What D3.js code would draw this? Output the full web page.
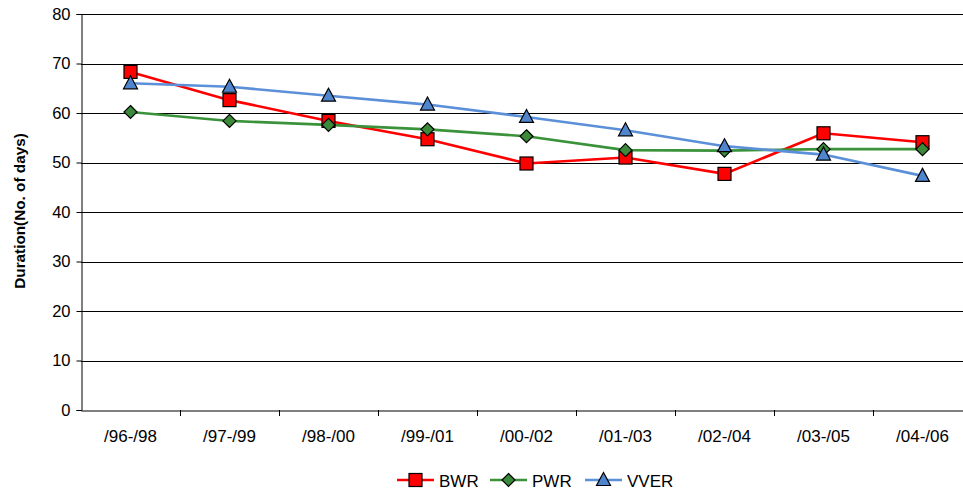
<!DOCTYPE html>
<html><head><meta charset="utf-8">
<script src="https://cdn.jsdelivr.net/npm/d3@7"></script>
<style>body{margin:0;background:#fff}svg{display:block}text{font-family:"Liberation Sans",Arial,sans-serif}</style>
</head><body>
<script>
const categories = ["/96-/98","/97-/99","/98-/00","/99-/01","/00-/02","/01-/03","/02-/04","/03-/05","/04-/06"];
const bwr  = [68.3, 62.6, 58.4, 54.7, 49.8, 51.0, 47.7, 55.9, 54.1];
const pwr  = [60.2, 58.4, 57.6, 56.7, 55.3, 52.5, 52.4, 52.7, 52.7];
const vver = [66.0, 65.3, 63.5, 61.7, 59.2, 56.5, 53.3, 51.6, 47.3];
const yTicks = [0,10,20,30,40,50,60,70,80];
const seriesNames = ["BWR","PWR","VVER"];

const W = 963, H = 491;
const m = {left: 81, top: 14, right: 972, bottom: 410};
const svg = d3.select("body").append("svg").attr("width", W).attr("height", H);

const x = d3.scaleBand().domain(categories).range([m.left, m.right]);
const y = d3.scaleLinear().domain([0,80]).range([m.bottom, m.top]);

// gridlines
svg.append("g").selectAll("line").data(yTicks.filter(d=>d>0)).join("line")
  .attr("x1", m.left).attr("x2", m.right)
  .attr("y1", d=>Math.round(y(d))+0.5).attr("y2", d=>Math.round(y(d))+0.5)
  .attr("stroke", "#000").attr("stroke-width", 1);

// y axis
const ya = svg.append("g").attr("transform", `translate(${m.left+0.5},0)`)
  .call(d3.axisLeft(y).tickValues(yTicks).tickSize(5).tickPadding(6));
ya.select(".domain").attr("stroke","#000");
ya.selectAll(".tick line").attr("stroke","#000");
ya.selectAll("text").attr("font-size", 16.5).attr("fill","#000").attr("font-family","Liberation Sans, Arial, sans-serif");

// x axis
const xa = svg.append("g").attr("transform", `translate(0,${Math.round(m.bottom)+0.5})`)
  .call(d3.axisBottom(x).tickSize(0).tickPadding(19));
xa.select(".domain").attr("stroke","#000");
xa.selectAll("text").attr("font-size", 17).attr("fill","#000").attr("font-family","Liberation Sans, Arial, sans-serif");
// tick marks between categories
svg.append("g").selectAll("line").data(categories.slice(1)).join("line")
  .attr("x1", d=>Math.round(x(d))+0.5).attr("x2", d=>Math.round(x(d))+0.5)
  .attr("y1", m.bottom).attr("y2", m.bottom+6).attr("stroke","#000");

// y title
svg.append("text").attr("transform", `translate(25,211) rotate(-90)`)
  .attr("text-anchor","middle").attr("font-size", 15.3).attr("font-weight","bold")
  .text("Duration(No. of days)");

const cx = d => x(d) + x.bandwidth()/2;
const series = [
  {name:"BWR", data:bwr, color:"#FF0000", fill:"#FF0000", shape:"square"},
  {name:"PWR", data:pwr, color:"#3A923A", fill:"#3A8A3A", shape:"diamond"},
  {name:"VVER", data:vver, color:"#5B90D8", fill:"#4F85CC", shape:"triangle"}
];
function marker(g, shape, fill) {
  if (shape==="square") g.append("rect").attr("x",-6.5).attr("y",-6.5).attr("width",13).attr("height",13);
  else if (shape==="diamond") g.append("path").attr("d","M0,-6.5L6.5,0L0,6.5L-6.5,0Z");
  else g.append("path").attr("d","M0,-7.5L7,5.5L-7,5.5Z");
  g.selectAll("*").attr("fill", fill).attr("stroke","#000").attr("stroke-width",1.2);
}
series.forEach(s => {
  const line = d3.line().x((d,i)=>cx(categories[i])).y(d=>y(d));
  svg.append("path").datum(s.data).attr("d", line).attr("fill","none")
    .attr("stroke", s.color).attr("stroke-width", 2.6);
});
series.forEach(s => {
  s.data.forEach((v,i) => {
    const g = svg.append("g").attr("transform", `translate(${cx(categories[i])},${y(v)})`);
    marker(g, s.shape, s.fill);
  });
});

// legend
const legX = [397, 490, 585];
series.forEach((s,i) => {
  const g = svg.append("g").attr("transform", `translate(${legX[i]},480)`);
  g.append("line").attr("x1",0).attr("x2",37).attr("stroke",s.color).attr("stroke-width",2.6);
  const mg = g.append("g").attr("transform","translate(18.5,0)");
  marker(mg, s.shape, s.fill);
  g.append("text").attr("x",42).attr("y",6.5).attr("font-size",17).text(s.name);
});
</script>
</body></html>
